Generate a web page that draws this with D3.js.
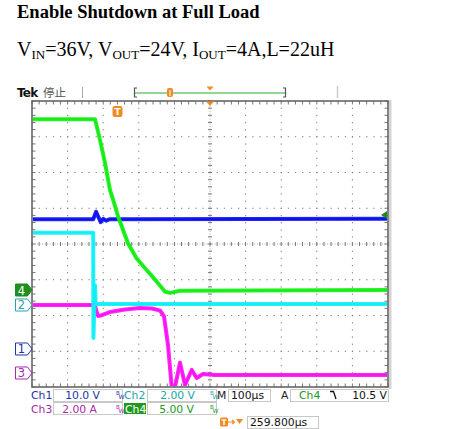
<!DOCTYPE html>
<html><head><meta charset="utf-8">
<script src="https://cdn.jsdelivr.net/npm/d3@7"></script>
<style>
html,body{margin:0;padding:0;background:#fff;}
svg{display:block;}
</style></head>
<body>
<svg id="c" width="475" height="429"></svg>
<script>
// ---------------- DATA ----------------
const title = "Enable Shutdown at Full Load";
const timePerDiv = 100;            // µs / div
const triggerDelay = 259.8;        // µs
const triggerLevel = 10.5;         // V on Ch4
// Ch1 : VIN (10 V/div)
const ch1Time = [-500,-328,-320,-313.8,-307,-299.7,-292,-281,500];
const ch1Val  = [36.3,36.3,38.4,37.0,35.5,36.4,35.9,36.3,36.4];
// Ch2 : EN (2 V/div)
const ch2Time = [-500,-328,-327.5,-323,-321,500];
const ch2Val  = [4.04,4.04,-1.85,1.1,0.05,0.05];
// Ch3 : IOUT (2 A/div)
const ch3Time = [-500,-323,-320,-314.6,-306,-281,-239,-197,-163,-140,-129,-118,-107.6,-102.5,-98.3,-84.3,-70.2,-51.4,-37.4,-19.7,14,500];
const ch3Val  = [3.80,3.80,3.52,3.19,3.22,3.41,3.55,3.64,3.61,3.49,3.15,1.57,-0.78,-1.4,-0.78,0.58,-0.67,0.17,-0.28,-0.06,-0.11,-0.11];
// Ch4 : VOUT (5 V/div)
const ch4Time = [-500,-323,-309,-295,-281,-272,-258,-230,-206,-178,-150,-126,-112,-84,500];
const ch4Val  = [23.9,23.9,21.0,17.8,14.0,12.6,10.25,6.5,4.4,2.8,1.2,-0.24,-0.4,-0.1,0];

const channels = [
  {id:1, t:ch1Time, v:ch1Val, perDiv:10, unit:"V", ground:-2.937, color:"#0a10ee", text:"#2233a8"},
  {id:3, t:ch3Time, v:ch3Val, perDiv:2,  unit:"A", ground:-3.608, color:"#ff10f4", text:"#a92aa9"},
  {id:2, t:ch2Time, v:ch2Val, perDiv:2,  unit:"V", ground:-1.706, color:"#10eef8", text:"#22a3ad"},
  {id:4, t:ch4Time, v:ch4Val, perDiv:5,  unit:"V", ground:-1.287, color:"#12ee12", text:"#229a22"}
];

// ---------------- LAYOUT ----------------
const svg = d3.select("#c");
const L=32, R=388, T=101, B=387;
const x = d3.scaleLinear().domain([-5*timePerDiv, 5*timePerDiv]).range([L,R]);
const yDiv = d3.scaleLinear().domain([-4,4]).range([B,T]);
const orange = "#f08a24";

// title & subtitle
svg.append("text").attr("x",17).attr("y",18)
  .attr("font-family","Liberation Serif").attr("font-weight","bold").attr("font-size",18.5)
  .attr("fill","#000").text(title);
const sub = svg.append("text").attr("x",17).attr("y",56)
  .attr("font-family","Liberation Serif").attr("font-size",20).attr("fill","#000");
let prevSub = false;
[["V",0],["IN",1],["=36V, V",0],["OUT",1],["=24V, I",0],["OUT",1],["=4A,L=22uH",0]].forEach(([s,isSub])=>{
  const ts = sub.append("tspan").text(s);
  if(isSub) ts.attr("font-size",13).attr("dy",3);
  else ts.attr("dy", prevSub ? -3 : 0);
  prevSub = !!isSub;
});

// header
svg.append("text").attr("x",17).attr("y",97).attr("font-family","DejaVu Sans").attr("font-weight","bold")
  .attr("font-size",12).attr("letter-spacing",-0.8).attr("fill","#111").text("Tek");
svg.append("text").attr("x",43).attr("y",97).attr("font-family","Noto Sans CJK SC").attr("font-size",11.5)
  .attr("fill","#555").text("停止");
svg.append("line").attr("x1",82.5).attr("x2",82.5).attr("y1",87).attr("y2",98).attr("stroke","#aaa");
svg.append("line").attr("x1",337.5).attr("x2",337.5).attr("y1",86).attr("y2",98).attr("stroke","#ccc").attr("stroke-width",1.5);
// record bar
svg.append("line").attr("x1",135).attr("x2",285).attr("y1",93).attr("y2",93).attr("stroke","#95d595").attr("stroke-width",2);
svg.append("path").attr("d","M137,88 H134.5 V97 H137").attr("fill","none").attr("stroke","#555").attr("stroke-width",1.2);
svg.append("path").attr("d","M283,88 H285.5 V97 H283").attr("fill","none").attr("stroke","#555").attr("stroke-width",1.2);
svg.append("rect").attr("x",167).attr("y",88).attr("width",6).attr("height",9).attr("rx",2).attr("fill",orange);
svg.append("line").attr("x1",170).attr("x2",170).attr("y1",90).attr("y2",96).attr("stroke","#fff").attr("stroke-width",1);
svg.append("path").attr("d",`M${x(0)-3.5},86.5 L${x(0)+3.5},86.5 L${x(0)},90.5 Z`).attr("fill",orange);

// ---------------- GRATICULE ----------------
const g = svg.append("g");
const minorX = d3.range(0,51).map(i=>-500+i*timePerDiv/5);
const minorY = d3.range(0,41).map(i=>-4+i*0.2);
const majorX = d3.range(-4,5).filter(d=>d!==0).map(d=>d*timePerDiv);
const majorY = [-3,-2,-1,1,2,3];
majorX.forEach(t=>{
  minorY.forEach(d=>{ g.append("rect").attr("x",x(t)-0.5).attr("y",yDiv(d)-0.5).attr("width",1).attr("height",1.3).attr("fill","#808080"); });
});
majorY.forEach(dv=>{
  minorX.forEach(t=>{ g.append("rect").attr("x",x(t)-0.5).attr("y",yDiv(dv)-0.5).attr("width",1.3).attr("height",1).attr("fill","#808080"); });
});
g.append("line").attr("x1",L).attr("x2",R).attr("y1",yDiv(0)).attr("y2",yDiv(0)).attr("stroke","#b0b0b0").attr("stroke-dasharray","1,1.5");
g.append("line").attr("x1",x(0)).attr("x2",x(0)).attr("y1",T).attr("y2",B).attr("stroke","#b0b0b0").attr("stroke-dasharray","1,1.5");
minorX.forEach(t=>{
  g.append("line").attr("x1",x(t)).attr("x2",x(t)).attr("y1",yDiv(0)-2).attr("y2",yDiv(0)+2).attr("stroke","#777");
  g.append("line").attr("x1",x(t)).attr("x2",x(t)).attr("y1",T).attr("y2",T+3.5).attr("stroke","#777");
  g.append("line").attr("x1",x(t)).attr("x2",x(t)).attr("y1",B-3.5).attr("y2",B).attr("stroke","#777");
});
minorY.forEach(d=>{
  g.append("line").attr("y1",yDiv(d)).attr("y2",yDiv(d)).attr("x1",x(0)-2).attr("x2",x(0)+2).attr("stroke","#777");
  g.append("line").attr("y1",yDiv(d)).attr("y2",yDiv(d)).attr("x1",L).attr("x2",L+3.5).attr("stroke","#777");
  g.append("line").attr("y1",yDiv(d)).attr("y2",yDiv(d)).attr("x1",R-3.5).attr("x2",R).attr("stroke","#777");
});
svg.append("rect").attr("x",R+1).attr("y",T-1).attr("width",2.5).attr("height",B-T+3).attr("fill","#d4d4d4");
svg.append("rect").attr("x",L).attr("y",T).attr("width",R-L).attr("height",B-T)
  .attr("fill","none").attr("stroke","#666").attr("stroke-width",1.6);
svg.append("path").attr("d",`M${x(0)-4},${T+0.5} L${x(0)+4},${T+0.5} L${x(0)},${T+5} Z`).attr("fill",orange);

// ---------------- TRACES ----------------
svg.append("clipPath").attr("id","clip").append("rect").attr("x",L+1).attr("y",T+1).attr("width",R-L-2).attr("height",B-T-2);
const traces = svg.append("g").attr("clip-path","url(#clip)");
channels.forEach(ch=>{
  const y = v => yDiv(ch.ground + v/ch.perDiv);
  const pts = ch.t.map((t,i)=>[t, ch.v[i]]);
  const line = d3.line().x(d=>x(d[0])).y(d=>y(d[1]));
  traces.append("path").attr("d",line(pts)).attr("fill","none").attr("stroke",ch.color)
    .attr("stroke-width",4).attr("stroke-linejoin","round").attr("opacity",0.9);
  traces.append("path").attr("d",line(pts)).attr("fill","none").attr("stroke",ch.color)
    .attr("stroke-width",1.6).attr("stroke-linejoin","round");
});

const tx = x(-triggerDelay);
svg.append("rect").attr("x",tx-5).attr("y",106).attr("width",10).attr("height",11).attr("rx",2.5).attr("fill",orange);
svg.append("text").attr("x",tx).attr("y",115).attr("text-anchor","middle").attr("font-family","DejaVu Sans")
  .attr("font-weight","bold").attr("font-size",9).attr("fill","#fff").text("T");
{
  const ch4 = channels.find(c=>c.id===4);
  const ty = yDiv(ch4.ground + triggerLevel/ch4.perDiv);
  svg.append("path").attr("d",`M${R-1},${ty-4} L${R-1},${ty+4} L${R-7},${ty} Z`).attr("fill","#1a8a1a");
}

channels.forEach(ch=>{
  const gy = yDiv(ch.ground);
  const filled = ch.id===4;
  svg.append("path").attr("d",`M15.5,${gy-6} H27.5 L32,${gy} L27.5,${gy+6} H15.5 Z`)
    .attr("fill",filled?"#1f8f1f":"#fff").attr("stroke",filled?"#1f8f1f":ch.text).attr("stroke-width",1);
  svg.append("text").attr("x",21.5).attr("y",gy+4.5).attr("text-anchor","middle").attr("font-family","DejaVu Sans")
    .attr("font-size",11.5).attr("fill",filled?"#fff":ch.text).text(ch.id);
});

// ---------------- READOUTS ----------------
const font = "DejaVu Sans";
const fs = 10.8;
function box(x0,y0,w,h){ svg.append("rect").attr("x",x0+0.5).attr("y",y0+0.5).attr("width",w).attr("height",h).attr("fill","none").attr("stroke","#c8c8c8"); }
function txt(s,x0,y0,col,anchor){ return svg.append("text").attr("x",x0).attr("y",y0).attr("font-family",font).attr("font-size",fs)
  .attr("fill",col).attr("text-anchor",anchor||"start").text(s); }
function bw(x0,y0,col){
  svg.append("text").attr("x",x0).attr("y",y0-4).attr("font-family",font).attr("font-size",5.5).attr("fill",col).text("B");
  svg.append("text").attr("x",x0+2.5).attr("y",y0).attr("font-family",font).attr("font-size",6).attr("fill",col).text("W");
}
const chById = id => channels.find(c=>c.id===id);
const fmt = d3.format(".2f"), fmt1 = d3.format(".1f");
const r1 = 399, r2 = 412.5, r3 = 426;
box(53,389,69,12); box(147,389,69,12); box(228,389,42,12); box(290,389,98,12);
box(53,402,69,12); box(147,402,69,12); box(247,416,71,12);
txt("Ch1",31,r1,chById(1).text); txt(fmt1(chById(1).perDiv)+" V",100,r1,chById(1).text,"end"); bw(116,r1,chById(1).text);
txt("Ch2",124,r1,chById(2).text); txt(fmt(chById(2).perDiv)+" V",195,r1,chById(2).text,"end"); bw(210,r1,chById(2).text);
txt("M",217,r1,"#222"); txt(timePerDiv+"µs",231,r1,"#111");
txt("A",281,r1,"#222"); txt("Ch4",299,r1,chById(4).text);
svg.append("path").attr("d",`M330,${r1-7.5} H333.5 L336,${r1}`).attr("fill","none").attr("stroke","#111").attr("stroke-width",1.3);
txt(fmt1(triggerLevel)+" V",387,r1,"#111","end");
txt("Ch3",31,r2,chById(3).text); txt(fmt(chById(3).perDiv)+" A",97,r2,chById(3).text,"end"); bw(116,r2,chById(3).text);
svg.append("rect").attr("x",124).attr("y",403).attr("width",22).attr("height",11).attr("fill","#1e981e");
txt("Ch4",125,r2,"#fff"); txt(fmt(chById(4).perDiv)+" V",194,r2,chById(4).text,"end"); bw(210,r2,chById(4).text);
svg.append("rect").attr("x",220).attr("y",417.5).attr("width",8).attr("height",9).attr("rx",1.5).attr("fill",orange);
svg.append("text").attr("x",224).attr("y",425).attr("text-anchor","middle").attr("font-family",font).attr("font-weight","bold").attr("font-size",7.5).attr("fill","#fff").text("T");
svg.append("path").attr("d","M228,422 H234 M232,420 L234.5,422 L232,424").attr("fill","none").attr("stroke",orange).attr("stroke-width",1.2);
svg.append("path").attr("d","M236,419 H243 L239.5,424 Z").attr("fill",orange);
txt(d3.format(".3f")(triggerDelay)+"µs",250,r3,"#111");
</script>
</body></html>
